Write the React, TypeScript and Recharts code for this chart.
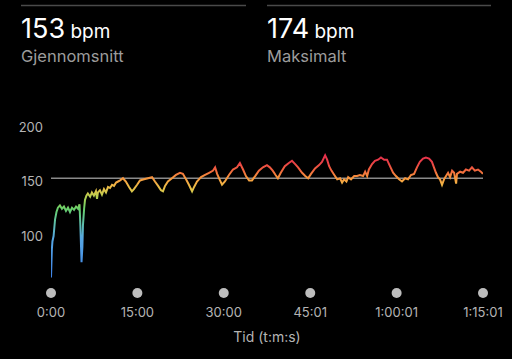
import React from "react";
import { LineChart, Line, XAxis, YAxis, ReferenceLine } from "recharts";

// time in minutes
const times: number[] = [
  0, 0.15, 0.25, 0.45, 0.7, 0.95, 1.2, 1.55, 1.9, 2.25, 2.6, 2.95, 3.3, 3.65, 4.0, 4.35, 4.7, 4.95,
  5.1, 5.3, 5.45, 5.55, 5.75, 5.9, 6.15, 6.4, 6.8, 7.1, 7.45, 7.8, 7.99, 8.15, 8.5, 8.85, 9.2, 9.55,
  9.9, 10.25, 10.6, 10.95, 11.3, 11.65, 12.0, 12.5, 13.0, 13.55, 14.05, 14.4, 14.95, 15.45, 16.15,
  16.85, 17.55, 18.05, 18.6, 19.1, 19.45, 19.8, 20.3, 21.0, 21.7, 22.4, 22.9, 23.45, 23.95, 24.5,
  24.85, 25.35, 26.05, 26.75, 27.45, 28.15, 28.5, 28.85, 29.35, 29.7, 30.2, 30.9, 31.6, 32.3, 32.8,
  33.35, 33.85, 34.4, 34.9, 35.45, 36.1, 36.8, 37.5, 38.0, 38.5, 39.0, 39.4, 39.9, 40.6, 41.3, 41.85,
  42.4, 42.9, 43.6, 44.15, 44.65, 45.15, 45.85, 46.55, 47.05, 47.6, 47.95, 48.3, 48.7, 49.2, 49.7,
  50.2, 50.55, 50.9, 51.3, 51.6, 52.1, 52.65, 53.15, 53.65, 54.2, 54.55, 54.9, 55.2, 55.75, 56.25,
  56.8, 57.3, 57.85, 58.35, 58.7, 59.05, 59.4, 59.9, 60.45, 60.95, 61.5, 62.0, 62.5, 63.05, 63.55,
  64.05, 64.6, 65.1, 65.65, 66.15, 66.5, 66.85, 67.2, 67.55, 67.9, 68.25, 68.6, 68.95, 69.3, 69.65,
  70.0, 70.35, 70.5, 71.05, 71.55, 72.05, 72.6, 73.1, 73.6, 74.15, 74.65, 75.0,
];

const bpm: number[] = [
  62, 88, 95, 100, 115, 122, 126, 128, 125, 127, 123, 126, 122, 126, 124, 127, 125, 129,
  110, 76, 90, 110, 125, 133, 137, 139, 136, 140, 137, 141, 134, 140, 142, 138, 143, 140,
  145, 144, 147, 146, 149, 150, 151, 153, 150, 145, 141, 143, 147, 151, 152,
  153, 154, 150, 146, 142, 141, 146, 150, 153, 156, 158, 157, 152, 147, 141,
  145, 150, 154, 156, 158, 160, 163, 157, 151, 147, 150, 156, 161, 163, 167,
  161, 155, 151, 151, 155, 160, 163, 165, 163, 160, 156, 153, 158, 164, 167, 169,
  166, 163, 158, 155, 153, 157, 162, 165, 168, 174, 170, 164, 160, 156, 152,
  153, 149, 152, 150, 154, 152, 155, 155, 156, 155, 159, 155, 161, 166, 169,
  170, 172, 170, 170, 166, 162, 158, 155, 152, 150, 153, 152, 156, 157, 163,
  168, 171, 172, 171, 168, 163, 158, 154, 152, 147, 152, 155, 158, 154, 160,
  158, 148, 157, 159, 158, 161, 160, 163, 160, 161, 159, 157,
];

const avgBpm = 153;
const maxBpm = 174;
const xTicks: number[] = [0, 15, 30, 45.0167, 60.0167, 75.0167];
const xTickLabels: string[] = ["0:00", "15:00", "30:00", "45:01", "1:00:01", "1:15:01"];
const yTicks: number[] = [100, 150, 200];

const data = times.map((t, i) => ({ t, v: bpm[i] }));

const vMax = Math.max(...bpm);
const vMin = Math.min(...bpm);
const stops: [number, string][] = [
  [174, "#e62f4c"],
  [167, "#ea4146"],
  [161, "#f0603e"],
  [155, "#f58a3c"],
  [150, "#f6a842"],
  [143, "#e6c248"],
  [135, "#aed052"],
  [125, "#68cf6a"],
  [112, "#5ec0a8"],
  [98, "#56a6e2"],
  [62, "#3f84e8"],
];
const off = (v: number) => Math.min(1, Math.max(0, (vMax - v) / (vMax - vMin)));

const font = "Inter, 'Noto Sans', sans-serif";

const XTick = (props: any) => {
  const { x, y, payload, index } = props;
  return (
    <g>
      <circle cx={x} cy={y + 2.5} r={5} fill="#bdbdbd" />
      <text x={x} y={y + 26} textAnchor="middle" fill="#b4b4b4" fontSize={13} fontFamily={font}>
        {xTickLabels[index] ?? payload.value}
      </text>
    </g>
  );
};

export default function App() {
  return (
    <div style={{ position: "absolute", left: 0, top: 0, width: 512, height: 359, background: "#000", overflow: "hidden" }}>
      <svg width={512} height={100} style={{ position: "absolute", left: 0, top: 0 }}>
        <line x1={21} y1={5.5} x2={246} y2={5.5} stroke="#4a4a4a" strokeWidth={1.5} />
        <line x1={267} y1={5.5} x2={491} y2={5.5} stroke="#4a4a4a" strokeWidth={1.5} />
        <text x={21} y={38} fill="#ffffff" fontFamily={font}>
          <tspan fontSize={27}>{avgBpm}</tspan>
          <tspan fontSize={19}> bpm</tspan>
        </text>
        <text x={21} y={62} fill="#9c9c9c" fontSize={16.5} fontFamily={font}>Gjennomsnitt</text>
        <text x={267} y={38} fill="#ffffff" fontFamily={font}>
          <tspan fontSize={27}>{maxBpm}</tspan>
          <tspan fontSize={19}> bpm</tspan>
        </text>
        <text x={267} y={62} fill="#9c9c9c" fontSize={16.5} fontFamily={font}>Maksimalt</text>
      </svg>
      <div style={{ position: "absolute", left: 0, top: 0 }}>
        <LineChart width={512} height={359} data={data} margin={{ top: 127, right: 29, bottom: 38.5, left: 0 }}>
          <defs>
            <linearGradient id="hrGrad" x1="0" y1="0" x2="0" y2="1">
              {stops.map(([v, c], i) => (
                <stop key={i} offset={off(v)} stopColor={c} />
              ))}
            </linearGradient>
          </defs>
          <XAxis
            dataKey="t"
            type="number"
            domain={[0, 75.0167]}
            ticks={xTicks}
            allowDataOverflow
            axisLine={false}
            tickLine={false}
            tickSize={0}
            tickMargin={0}
            height={30}
            interval={0}
            tick={<XTick />}
          />
          <YAxis
            type="number"
            domain={[50, 200]}
            ticks={yTicks}
            width={51}
            axisLine={false}
            tickLine={false}
            tickSize={0}
            tickMargin={8}
            allowDataOverflow
            tick={{ fill: "#b4b4b4", fontSize: 13, fontFamily: font }}
          />
          <ReferenceLine y={avgBpm} stroke="#8a8a8a" strokeWidth={1.5} />
          <Line
            type="linear"
            dataKey="v"
            stroke="url(#hrGrad)"
            strokeWidth={2}
            dot={false}
            isAnimationActive={false}
          />
        </LineChart>
      </div>
      <div
        style={{
          position: "absolute",
          left: 51,
          width: 432,
          top: 328,
          textAlign: "center",
          color: "#b4b4b4",
          fontSize: 14,
          fontFamily: font,
          lineHeight: "18px",
        }}
      >
        Tid (t:m:s)
      </div>
    </div>
  );
}
